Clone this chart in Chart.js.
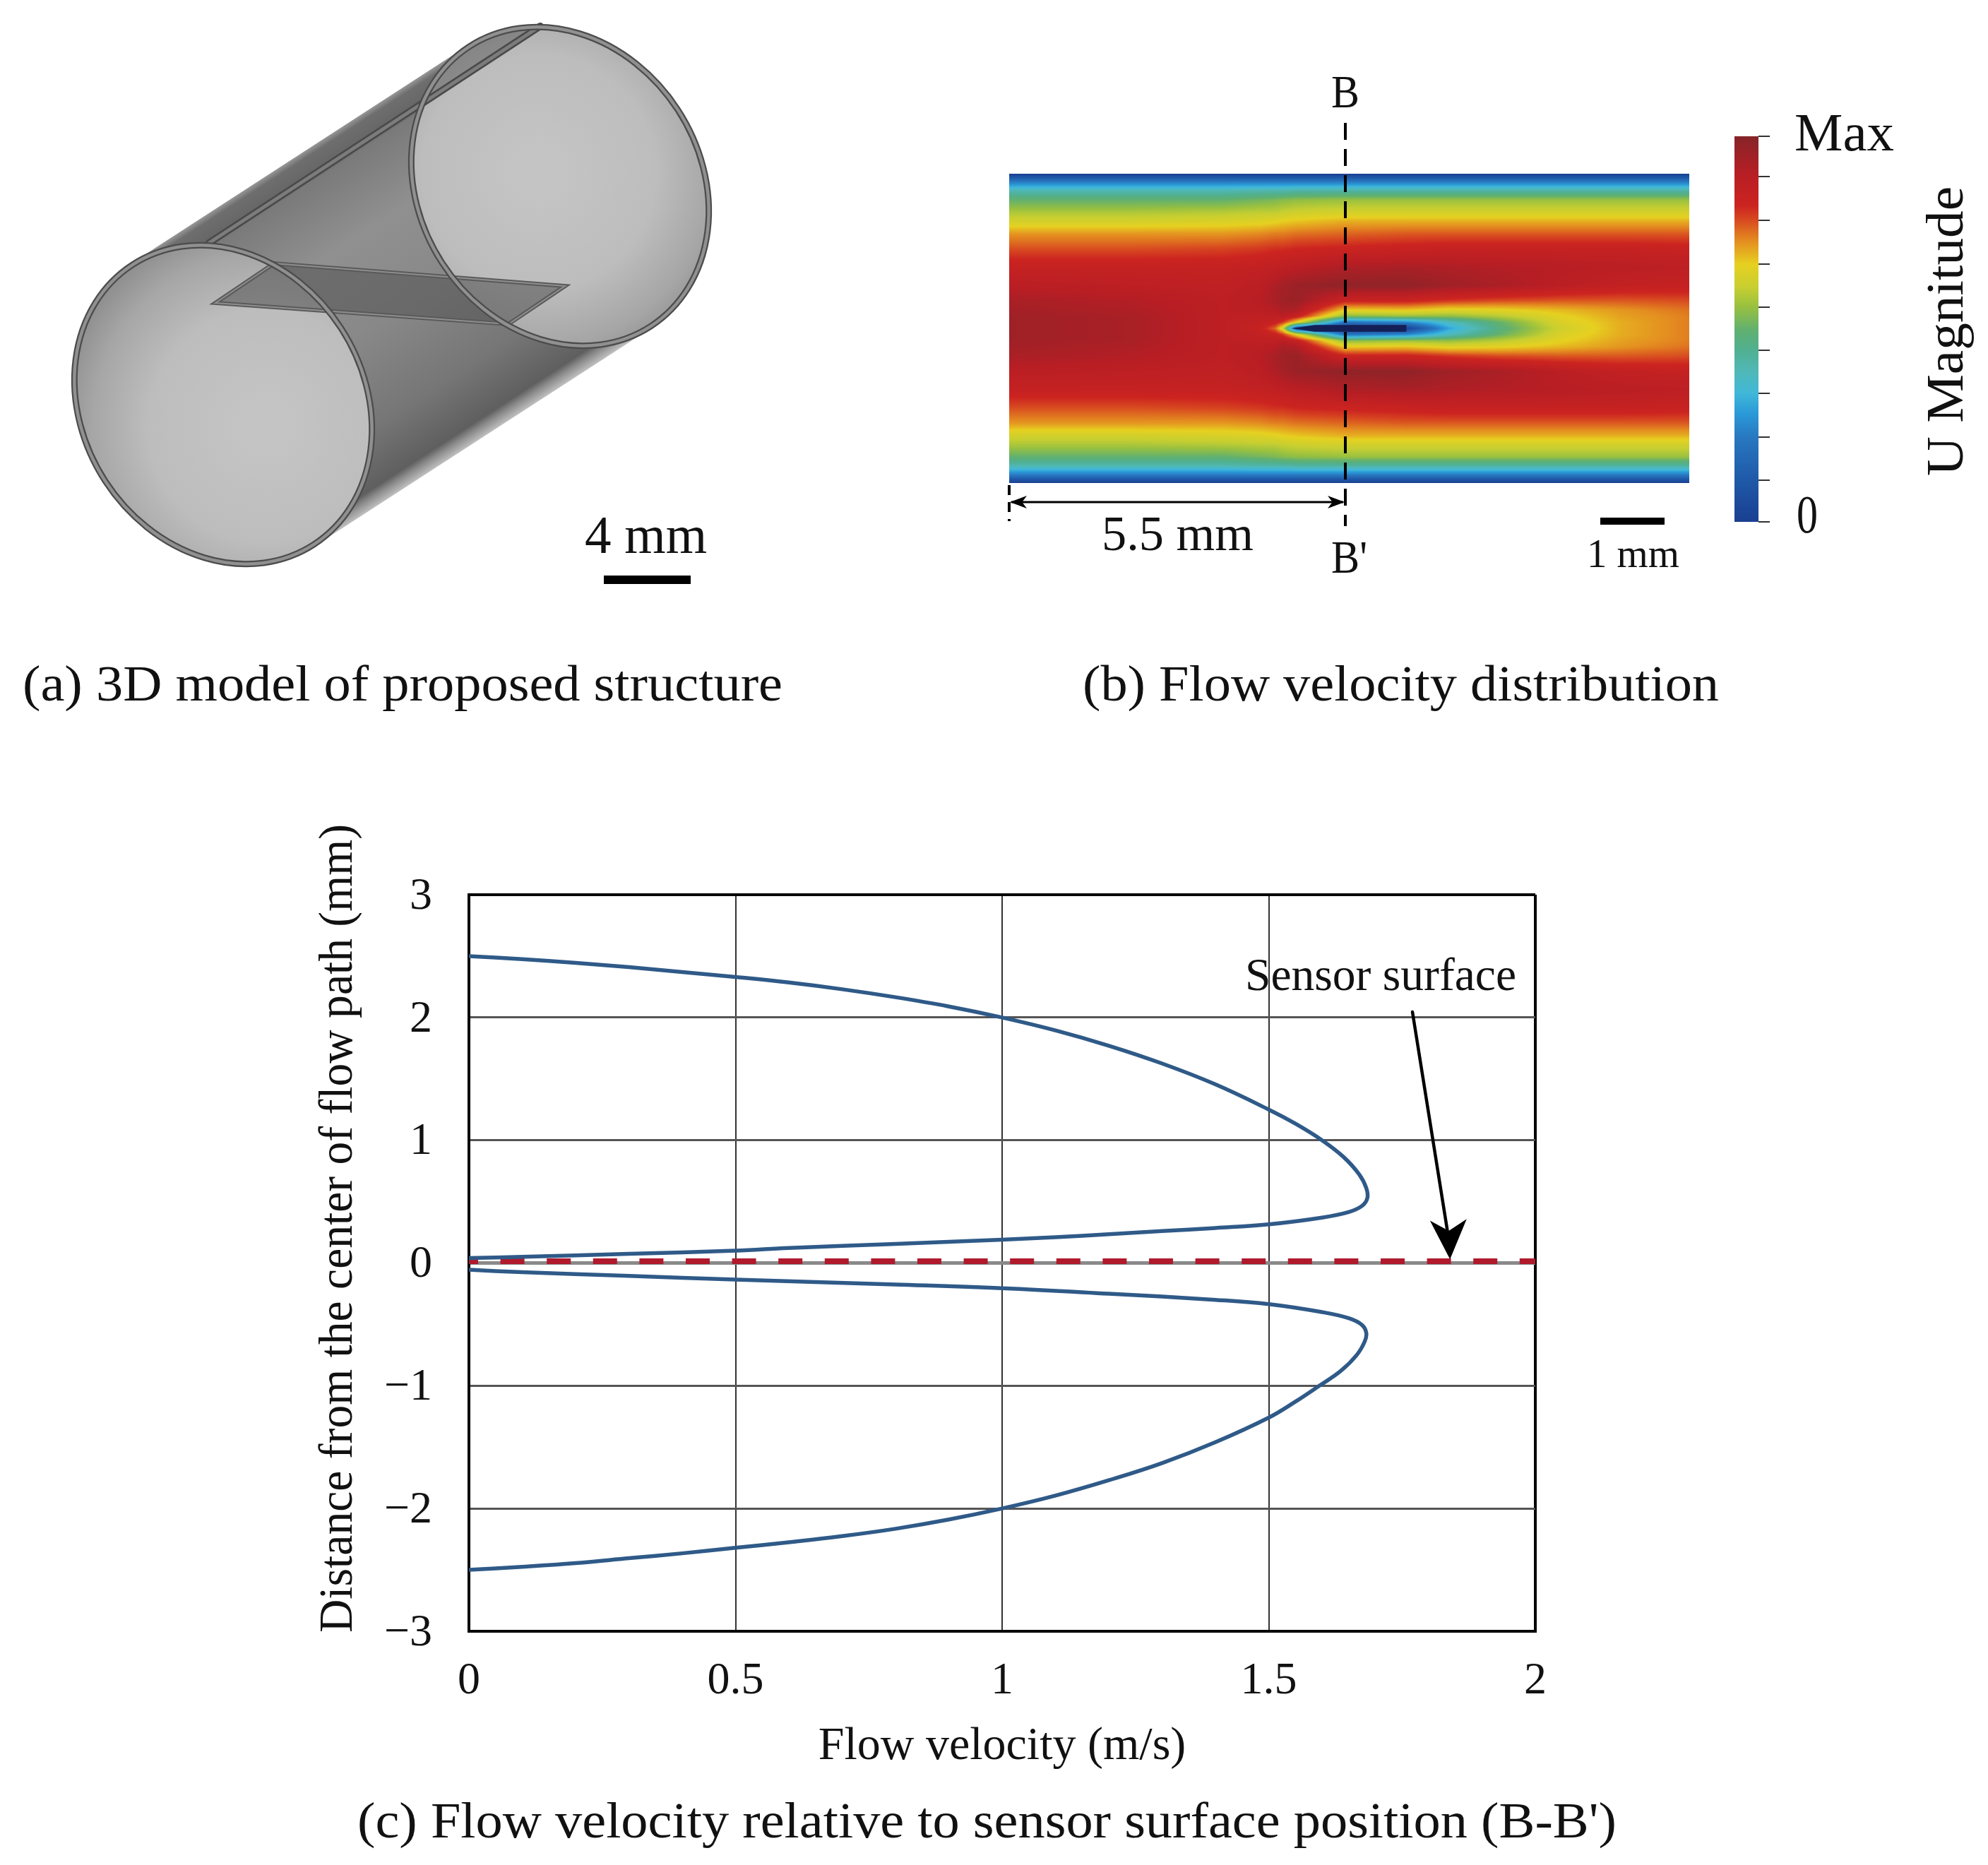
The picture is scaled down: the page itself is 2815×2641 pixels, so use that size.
<!DOCTYPE html>
<html><head><meta charset="utf-8">
<style>html,body{margin:0;padding:0;background:#fff}canvas{position:absolute;display:block}</style>
<script src="https://cdn.jsdelivr.net/npm/chart.js@4"></script></head>
<body>
<canvas id="main" width="2815" height="2641" style="left:0;top:0"></canvas>
<canvas id="flow" width="1415" height="820" style="left:1400px;top:60px"></canvas>
<script>
// Panel (c) data: [flow velocity m/s, distance mm]
const upperVelocity=[0,.1,.2,.3,.4,.5,.6,.7,.8,.9,1,1.1,1.2,1.3,1.4,1.5,1.55,1.6,1.64,1.67,1.683,1.685,1.675,1.65,1.6,1.5,1.4,1.3,1.2,1.1,1,.8,.6,.5,.3,.1,0];
const upperDistance=[2.5,2.475,2.445,2.41,2.37,2.33,2.285,2.23,2.165,2.09,2,1.895,1.77,1.625,1.455,1.25,1.135,1,.865,.72,.61,.53,.465,.415,.37,.315,.285,.26,.235,.21,.19,.155,.122,.1,.075,.05,.04];
const lowerVelocity=[0,.1,.3,.5,.8,1,1.2,1.4,1.5,1.6,1.65,1.675,1.683,1.68,1.665,1.635,1.595,1.55,1.5,1.4,1.3,1.2,1.1,1,.9,.8,.7,.6,.5,.4,.3,.2,.1,0];
const lowerDistance=[-.055,-.075,-.105,-.135,-.175,-.205,-.25,-.3,-.335,-.4,-.45,-.505,-.57,-.64,-.75,-.88,-1,-1.13,-1.26,-1.46,-1.63,-1.77,-1.895,-2,-2.09,-2.165,-2.225,-2.275,-2.32,-2.365,-2.405,-2.445,-2.475,-2.5];
const surfaceVelocity=[0,2];
const surfaceDistance=[.014,.014];
const xTicks=['0','0.5','1','1.5','2'];
// Panel (b): relative velocity read by eye, mirrored about the centre line
const fieldX=[0,2,3.5,4.1,4.35,4.48,4.7,5.5,6.5,7.2,8,9,10,11.13];
const fieldOffset=[0,.1,.2,.3,.45,.7,1,1.3,1.55,1.75,1.9,2.1,2.25,2.4,2.53];
const fieldValues=[
[.95,.95,.95,.94,.93,.89,.85,.78,.72,.63,.58,.5,.4,.22,0],
[.93,.93,.93,.92,.91,.88,.85,.78,.72,.63,.58,.5,.4,.22,0],
[.88,.88,.88,.88,.88,.87,.85,.79,.72,.64,.59,.5,.4,.22,0],
[.85,.86,.87,.89,.9,.89,.86,.8,.73,.65,.6,.52,.41,.22,0],
[.76,.84,.88,.9,.93,.92,.87,.81,.74,.66,.6,.53,.41,.22,0],
[.62,.8,.89,.93,.95,.94,.88,.81,.74,.67,.61,.54,.41,.22,0],
[.1,.66,.85,.92,.96,.96,.89,.82,.75,.68,.62,.55,.42,.22,0],
[0,.2,.54,.67,.83,.98,.92,.83,.76,.7,.63,.56,.42,.22,0],
[.02,.25,.56,.68,.83,.98,.93,.84,.77,.7,.63,.56,.42,.22,0],
[.3,.38,.55,.65,.8,.95,.92,.85,.77,.7,.63,.56,.42,.22,0],
[.47,.5,.59,.66,.78,.93,.91,.85,.77,.7,.63,.56,.42,.22,0],
[.62,.64,.66,.69,.77,.89,.9,.85,.77,.7,.63,.56,.42,.22,0],
[.7,.7,.71,.72,.77,.86,.89,.85,.77,.7,.63,.56,.42,.22,0],
[.74,.74,.74,.75,.78,.85,.88,.84,.77,.7,.63,.56,.42,.22,0]];
const colorStops=[[0,'#1a3f90'],[.107,'#1f58a8'],[.22,'#2878c0'],[.282,'#2a9ad8'],[.334,'#40b8d8'],[.39,'#50b8b8'],[.446,'#50b090'],[.497,'#60b070'],[.558,'#98c040'],[.609,'#c8cf30'],[.668,'#e6d020'],[.726,'#e49020'],[.782,'#d84a20'],[.82,'#cc2420'],[.9,'#b81e24'],[1,'#862428']];

const SERIF='"Liberation Serif","Times New Roman",serif';
function hex(c){return [1,3,5].map(i=>parseInt(c.substr(i,2),16));}
const stopsRGB=colorStops.map(s=>[s[0],hex(s[1])]);
function colorOf(v){
  v=Math.max(0,Math.min(1,v));
  for(let i=1;i<stopsRGB.length;i++){
    if(v<=stopsRGB[i][0]){
      const a=stopsRGB[i-1],b=stopsRGB[i],t=(v-a[0])/(b[0]-a[0]);
      return [0,1,2].map(k=>a[1][k]+(b[1][k]-a[1][k])*t);
    }
  }
  return stopsRGB[stopsRGB.length-1][1];
}
function locate(arr,v){
  let i=0;while(i<arr.length-2&&v>arr[i+1])i++;
  return [i,Math.max(0,Math.min(1,(v-arr[i])/(arr[i+1]-arr[i])))];
}
// draw text so that it spans left..right, vertically centred on cy
function fit(ctx,text,left,right,cy,size,color){
  ctx.save();
  ctx.font=size+'px '+SERIF;ctx.fillStyle=color||'#111';ctx.textBaseline='middle';ctx.textAlign='left';
  const w=ctx.measureText(text).width;
  ctx.translate(left,cy+3.5);ctx.scale((right-left)/w,1);ctx.fillText(text,0,0);
  ctx.restore();
}
function fitV(ctx,text,top,bottom,cx,size,color){
  ctx.save();
  ctx.font=size+'px '+SERIF;ctx.fillStyle=color||'#111';ctx.textBaseline='middle';ctx.textAlign='left';
  const w=ctx.measureText(text).width;
  ctx.translate(cx,bottom);ctx.rotate(-Math.PI/2);ctx.scale((bottom-top)/w,1);ctx.fillText(text,0,0);
  ctx.restore();
}
function arrowHead(ctx,x,y,dx,dy,len,half){
  const n=Math.hypot(dx,dy);dx/=n;dy/=n;
  ctx.beginPath();ctx.moveTo(x,y);
  ctx.lineTo(x-dx*len-dy*half,y-dy*len+dx*half);
  ctx.lineTo(x-dx*len*.72,y-dy*len*.72);
  ctx.lineTo(x-dx*len+dy*half,y-dy*len-dx*half);
  ctx.closePath();ctx.fill();
}
function drawCylinder(ctx){
  const F={x:316,y:573},B={x:793,y:264},a=239,b=202,rot=57*Math.PI/180;
  // tube body
  let g=ctx.createLinearGradient(424,218,684,619);
  [[0,'#9a9a9a'],[.02,'#6e6e6e'],[.07,'#666666'],[.09,'#7a7a7a'],[.3,'#909090'],[.55,'#888888'],[.8,'#767676'],[.95,'#5f5f5f'],[.97,'#8a8a8a'],[1,'#c0c0c0']].forEach(s=>g.addColorStop(s[0],s[1]));
  ctx.fillStyle=g;
  ctx.beginPath();ctx.moveTo(186,373);ctx.lineTo(663,64);ctx.lineTo(923,464);ctx.lineTo(446,773);ctx.closePath();ctx.fill();
  // end faces
  [F,B].forEach((c,i)=>{
    const sx=i?-30:60,sy=i?-20:30;
    const r=ctx.createRadialGradient(c.x+sx,c.y+sy,30,c.x+sx,c.y+sy,300);
    r.addColorStop(0,'#c4c4c4');r.addColorStop(.5,'#bdbdbd');r.addColorStop(.8,'#a6a6a6');r.addColorStop(1,'#8c8c8c');
    ctx.fillStyle=r;
    ctx.beginPath();ctx.ellipse(c.x,c.y,a,b,rot,0,Math.PI*2);ctx.fill();
  });
  // darker strip seen through the back face
  ctx.save();
  ctx.beginPath();ctx.ellipse(B.x,B.y,a,b,rot,0,Math.PI*2);ctx.clip();
  ctx.beginPath();ctx.moveTo(296,344);ctx.lineTo(765,37);ctx.lineTo(700,0);ctx.lineTo(300,100);ctx.closePath();
  ctx.fillStyle='rgba(60,60,60,.38)';ctx.fill();
  ctx.restore();
  // plate seen through the tube
  ctx.beginPath();ctx.moveTo(305,429);ctx.lineTo(388,373);ctx.lineTo(800,405);ctx.lineTo(720,459);ctx.closePath();
  ctx.fillStyle='rgba(85,85,85,.58)';ctx.fill();
  ctx.lineWidth=6;ctx.strokeStyle='#5a5a5a';ctx.stroke();
  ctx.lineWidth=2;ctx.strokeStyle='#8e8e8e';ctx.stroke();
  // top edge of the plate
  ctx.lineCap='round';
  ctx.beginPath();ctx.moveTo(296,344);ctx.lineTo(765,37);ctx.lineWidth=10;ctx.strokeStyle='#4a4a4a';ctx.stroke();
  ctx.lineWidth=5;ctx.strokeStyle='#7c7c7c';ctx.stroke();
  // rims
  [F,B].forEach(c=>{
    ctx.beginPath();ctx.ellipse(c.x,c.y,a-3,b-3,rot,0,Math.PI*2);
    ctx.lineWidth=9;ctx.strokeStyle='#4c4c4c';ctx.stroke();
    ctx.lineWidth=4.5;ctx.strokeStyle='#909090';ctx.stroke();
  });
  // scale bar
  ctx.fillStyle='#000';ctx.fillRect(855,815,123,12);
  fit(ctx,'4 mm',828,1001,760,76);
}
const mainDecor={id:'mainDecor',
  afterDraw(chart){
    const ctx=chart.ctx,xs=chart.scales.x,ys=chart.scales.y;
    drawCylinder(ctx);
    fit(ctx,'(a) 3D model of proposed structure',32,1108,970,72);
    fit(ctx,'(b) Flow velocity distribution',1533,2434,970,72);
    fit(ctx,"(c) Flow velocity relative to sensor surface position (B-B')",506,2289,2580,72);
    fitV(ctx,'Distance from the center of flow path (mm)',1167,2312,480,68);
    fit(ctx,'Sensor surface',1763,2147,1381,66);
    // arrow to the sensor surface
    const tipX=xs.getPixelForValue(1.84),tipY=ys.getPixelForValue(.03);
    ctx.strokeStyle='#000';ctx.fillStyle='#000';ctx.lineWidth=4.5;
    ctx.beginPath();ctx.moveTo(2000,1433);ctx.lineTo(tipX-2,tipY-30);ctx.stroke();
    arrowHead(ctx,tipX,tipY,15,350,56,26);
  }};
new Chart(document.getElementById('main'),{
  type:'scatter',
  data:{datasets:[
    {data:upperVelocity.map((v,i)=>({x:v,y:upperDistance[i]})),showLine:true,borderColor:'#2f5a88',borderWidth:5.5,pointRadius:0,tension:.4,fill:false},
    {data:lowerVelocity.map((v,i)=>({x:v,y:lowerDistance[i]})),showLine:true,borderColor:'#2f5a88',borderWidth:5.5,pointRadius:0,tension:.4,fill:false},
    {data:surfaceVelocity.map((v,i)=>({x:v,y:surfaceDistance[i]})),showLine:true,borderColor:'#b01a2c',borderWidth:8,borderDash:[34,31.6],borderDashOffset:21,pointRadius:0,fill:false}
  ]},
  options:{responsive:false,animation:false,devicePixelRatio:1,
    layout:{padding:{left:400,right:641,top:1267,bottom:128}},
    plugins:{legend:{display:false},tooltip:{enabled:false},title:{display:false}},
    scales:{
      x:{type:'linear',min:0,max:2,afterFit(s){s.height=203;},
        afterBuildTicks(s){s.ticks=xTicks.map(t=>({value:parseFloat(t)}));},
        border:{display:true,color:'#000',width:4},
        grid:{drawTicks:false,
          color:c=>c.tick&&(c.tick.value===0||c.tick.value===2)?'#000':'#333333',
          lineWidth:c=>c.tick&&(c.tick.value===0||c.tick.value===2)?4:2},
        ticks:{color:'#111',padding:33,maxRotation:0,autoSkip:false,font:{family:SERIF,size:64},callback:v=>String(v)},
        title:{display:true,text:'Flow velocity (m/s)',color:'#111',padding:0,font:{family:SERIF,size:66}}},
      y:{type:'linear',min:-3,max:3,afterFit(s){s.width=264;},
        border:{display:true,color:'#000',width:4},
        grid:{drawTicks:false,
          color:c=>c.tick&&Math.abs(c.tick.value)===3?'#000':(c.tick&&c.tick.value===0?'#8a8a8a':'#555555'),
          lineWidth:c=>c.tick&&Math.abs(c.tick.value)===3?4:(c.tick&&c.tick.value===0?5:3)},
        ticks:{stepSize:1,color:'#111',padding:52,labelOffset:3,autoSkip:false,font:{family:SERIF,size:64},
          callback:v=>v<0?'\u2212'+Math.abs(v):String(v)}}
    }},
  plugins:[mainDecor]});

const heatmap={id:'heatmap',
  beforeDatasetsDraw(chart){
    const ctx=chart.ctx,A=chart.chartArea,xs=chart.scales.x,ys=chart.scales.y;
    const W=Math.round(A.right-A.left),H=Math.round(A.bottom-A.top);
    const off=document.createElement('canvas');off.width=W;off.height=H;
    const oc=off.getContext('2d'),img=oc.createImageData(W,H);
    for(let py=0;py<H;py++){
      const o=Math.abs(ys.getValueForPixel(A.top+py+.5));
      const [r,rt]=locate(fieldOffset,o);
      for(let px=0;px<W;px++){
        const [c,ct]=locate(fieldX,xs.getValueForPixel(A.left+px+.5));
        const v0=fieldValues[c][r]*(1-rt)+fieldValues[c][r+1]*rt;
        const v1=fieldValues[c+1][r]*(1-rt)+fieldValues[c+1][r+1]*rt;
        const col=colorOf(v0*(1-ct)+v1*ct),i=(py*W+px)*4;
        img.data[i]=col[0];img.data[i+1]=col[1];img.data[i+2]=col[2];img.data[i+3]=255;
      }
    }
    oc.putImageData(img,0,0);
    ctx.drawImage(off,A.left,A.top);
    // sensor body
    ctx.fillStyle='#141f55';ctx.beginPath();
    ctx.moveTo(xs.getPixelForValue(4.62),ys.getPixelForValue(0));
    ctx.lineTo(xs.getPixelForValue(5),ys.getPixelForValue(.055));
    ctx.lineTo(xs.getPixelForValue(6.5),ys.getPixelForValue(.055));
    ctx.lineTo(xs.getPixelForValue(6.5),ys.getPixelForValue(-.055));
    ctx.lineTo(xs.getPixelForValue(5),ys.getPixelForValue(-.055));
    ctx.closePath();ctx.fill();
  },
  afterDraw(chart){
    const ctx=chart.ctx;
    ctx.save();ctx.translate(-1400,-60); // page coordinates for the annotations
    // section line
    ctx.strokeStyle='#000';ctx.lineWidth=4;ctx.setLineDash([24,13]);
    ctx.beginPath();ctx.moveTo(1905,174);ctx.lineTo(1905,745);ctx.stroke();
    ctx.setLineDash([14,10]);
    ctx.beginPath();ctx.moveTo(1429,687);ctx.lineTo(1429,738);ctx.stroke();
    ctx.setLineDash([]);
    // 5.5 mm dimension
    ctx.lineWidth=3;ctx.beginPath();ctx.moveTo(1432,711);ctx.lineTo(1902,711);ctx.stroke();
    ctx.fillStyle='#000';
    arrowHead(ctx,1430,711,-1,0,24,9);arrowHead(ctx,1904,711,1,0,24,9);
    fit(ctx,'B',1885,1925,131,66);
    fit(ctx,"B'",1885,1936,790,66);
    fit(ctx,'5.5 mm',1560,1775,757,70);
    // scale bar
    ctx.fillStyle='#000';ctx.fillRect(2266,733,91,10);
    fit(ctx,'1 mm',2247,2378,784,58);
    // colour bar
    const cb=ctx.createLinearGradient(0,739,0,193);
    colorStops.forEach(s=>cb.addColorStop(s[0],s[1]));
    ctx.fillStyle=cb;ctx.fillRect(2456,193,34,546);
    ctx.strokeStyle='#333';ctx.lineWidth=2;
    [193,250,312,374,435,496,557,619,680,739].forEach(y=>{
      ctx.beginPath();ctx.moveTo(2490,y);ctx.lineTo(2506,y);ctx.stroke();
    });
    fit(ctx,'Max',2541,2682,190,76);
    fit(ctx,'0',2544,2574,731,76);
    fitV(ctx,'U Magnitude',264,674,2760,74);
    ctx.restore();
  }};
new Chart(document.getElementById('flow'),{
  type:'scatter',
  data:{datasets:[{data:[],pointRadius:0}]},
  options:{responsive:false,animation:false,devicePixelRatio:1,
    layout:{padding:{left:29,right:423,top:186,bottom:196}},
    plugins:{legend:{display:false},tooltip:{enabled:false}},
    scales:{x:{type:'linear',display:false,min:0,max:11.13},y:{type:'linear',display:false,min:-2.53,max:2.53}}},
  plugins:[heatmap]});
</script></body></html>
